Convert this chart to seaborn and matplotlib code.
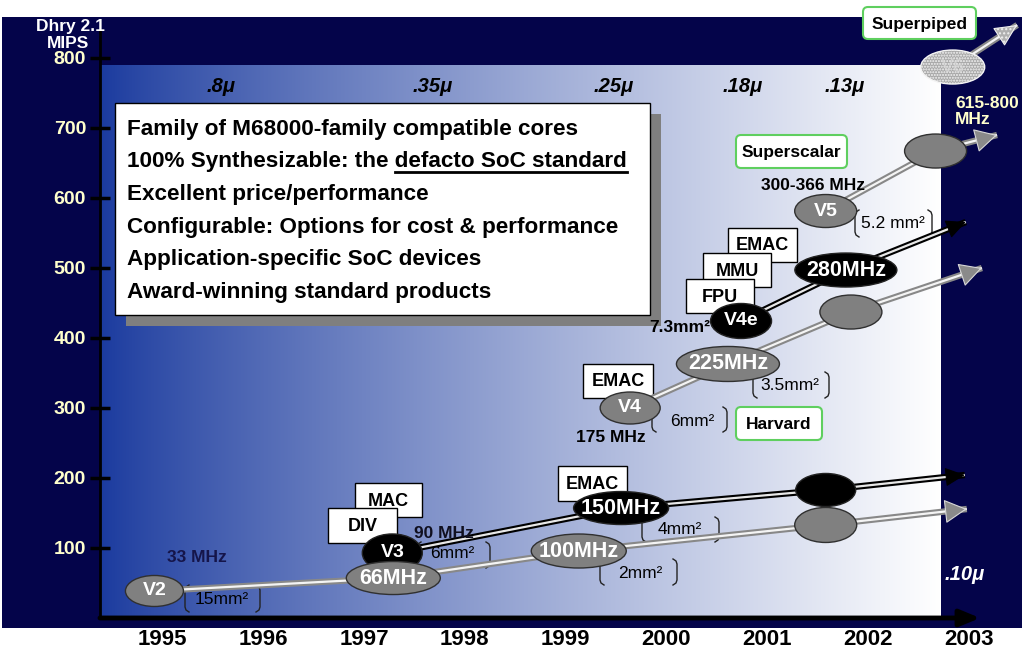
import numpy as np
import pandas as pd
import matplotlib
matplotlib.use("Agg")
import matplotlib.pyplot as plt
import matplotlib.transforms as mtrans
from matplotlib.patches import Ellipse, Rectangle, FancyBboxPatch
import seaborn as sns

# ---------------- data ----------------
year_ticks = [1995, 1996, 1997, 1998, 1999, 2000, 2001, 2002, 2003]
mips_ticks = [100, 200, 300, 400, 500, 600, 700, 800]

# each series: core points (years, Dhrystone MIPS); last point = arrow tip
v2_years = [1994.92, 1997.29, 1999.13, 2001.58, 2002.98]
v2_mips = [38.6, 57.1, 95.7, 132.9, 155.7]
v2_labels = ["V2", "66MHz", "100MHz", ""]

v3_years = [1997.28, 1999.55, 2001.58, 2002.96]
v3_mips = [92.9, 157.1, 182.9, 204.3]
v3_labels = ["V3", "150MHz", ""]

v4_years = [1999.64, 2000.61, 2001.83, 2003.13]
v4_mips = [300.0, 362.9, 437.1, 500.0]
v4_labels = ["V4", "225MHz", ""]

v4e_years = [2000.74, 2001.78, 2002.97]
v4e_mips = [424.3, 497.1, 565.7]
v4e_labels = ["V4e", "280MHz"]

v5_years = [2001.58, 2002.67, 2003.28]
v5_mips = [581.4, 667.1, 690.0]
v5_labels = ["V5", ""]

v6_years = [2002.84, 2003.48]
v6_mips = [787.1, 847.1]
v6_labels = ["V6"]

node_labels = [".8\u03bc", ".35\u03bc", ".25\u03bc", ".18\u03bc", ".13\u03bc"]
node_years = [1995.58, 1997.68, 1999.48, 2000.76, 2001.77]
node_last_label = ".10\u03bc"

bullets = [
    "Family of M68000-family compatible cores",
    "100% Synthesizable: the defacto SoC standard",
    "Excellent price/performance",
    "Configurable: Options for cost & performance",
    "Application-specific SoC devices",
    "Award-winning standard products",
]
underlined_part = "defacto SoC standard"

# ---------------- styling / layout ----------------
plt.rcParams["font.family"] = ["Liberation Sans", "DejaVu Sans"]
W, H = 1024, 652
NAVY = "#04044a"
GRAY = "#808080"

fig = plt.figure(figsize=(W / 100, H / 100), dpi=100, facecolor="white")
PX = mtrans.Affine2D().scale(1 / W, -1 / H).translate(0, 1) + fig.transFigure

bg = fig.add_axes([0, 0, 1, 1])
bg.set_axis_off()
bg.add_patch(Rectangle((2, 17), 1020, 611, transform=PX, fc=NAVY, ec="none"))

AX_L, AX_R, AX_T, AX_B = 100, 990, 30, 618
ax = fig.add_axes([AX_L / W, 1 - AX_B / H, (AX_R - AX_L) / W, (AX_B - AX_T) / H])
ax.set_facecolor("none")
XLIM = (1994.38, 2003.21)
YLIM = (0, 840)
XS = (AX_R - AX_L) / (XLIM[1] - XLIM[0])
YS = (AX_B - AX_T) / (YLIM[1] - YLIM[0])


def yr(px):
    return XLIM[0] + (px - AX_L) / XS


def mp(py):
    return YLIM[0] + (AX_B - py) / YS


# gradient panel
gx = np.linspace(0, 1, 600)
f = gx ** 0.85
left = np.array([26, 58, 158]) / 255
grad = left[None, :] * (1 - f[:, None]) + np.ones(3)[None, :] * f[:, None]
ax.imshow(grad[None, :, :], extent=[yr(100), yr(941), 0, mp(66)], aspect="auto",
          zorder=0, interpolation="bilinear")

# text box with shadow
ax.add_patch(Rectangle((126, 114), 535, 212, transform=PX, fc="#7f7f7f", ec="none",
                       zorder=1, clip_on=False))
ax.add_patch(Rectangle((115, 103), 535, 212, transform=PX, fc="white", ec="black",
                       lw=1, zorder=1.1, clip_on=False))
baselines = [135, 167, 200, 233, 265, 298]
btexts = []
BFS = 16.2
for s, b in zip(bullets, baselines):
    btexts.append(ax.text(127, b, s, transform=PX, ha="left", va="baseline",
                          fontsize=BFS, fontweight="bold", color="black", zorder=1.2))

# white feature boxes (back to front)
feature_boxes = [
    (355, 483, 422, 517, "MAC"), (328, 508, 397, 543, "DIV"),
    (558, 466, 627, 501, "EMAC"), (583, 364, 653, 398, "EMAC"),
    (728, 228, 797, 262, "EMAC"), (703, 253, 771, 287, "MMU"), (686, 279, 754, 313, "FPU"),
]
for i, (x0, y0, x1, y1, lab) in enumerate(feature_boxes):
    z = 2 + i * 0.01
    ax.add_patch(Rectangle((x0, y0), x1 - x0, y1 - y0, transform=PX, fc="white",
                           ec="black", lw=1, zorder=z, clip_on=False))
    ax.text((x0 + x1) / 2, (y0 + y1) / 2 + 1, lab, transform=PX, ha="center", va="center",
            fontsize=13, fontweight="bold", color="black", zorder=z + 0.005)

# green rounded boxes
green_boxes = [(736, 135, 847, 168, "Superscalar"), (736, 407, 822, 440, "Harvard"),
               (863, 7, 976, 39, "Superpiped")]
for x0, y0, x1, y1, lab in green_boxes:
    ax.add_patch(FancyBboxPatch((x0, y0), x1 - x0, y1 - y0,
                                boxstyle="round,pad=0,rounding_size=5", transform=PX,
                                fc="white", ec="#5fcf5f", lw=1.5, zorder=2, clip_on=False))
    ax.text((x0 + x1) / 2, (y0 + y1) / 2 + 1, lab, transform=PX, ha="center", va="center",
            fontsize=12.5, fontweight="bold", color="black", zorder=2.1)

# area brackets
brackets = [
    (185, 260, 585, 612, "15mm\u00b2", 222, 600),
    (417, 490, 542, 568, "6mm\u00b2", 452, 554),
    (600, 677, 559, 585, "2mm\u00b2", 640, 573),
    (642, 719, 517, 542, "4mm\u00b2", 680, 530),
    (652, 727, 407, 432, "6mm\u00b2", 692, 421),
    (753, 829, 372, 398, "3.5mm\u00b2", 790, 385),
    (855, 932, 210, 237, "5.2 mm\u00b2", 893, 224),
]
for xl, xr, y0, y1, lab, tx, ty in brackets:
    lx = [xl + 4, xl + 1, xl, xl, xl + 1, xl + 4]
    rx = [xr - 4, xr - 1, xr, xr, xr - 1, xr - 4]
    yy = [y0, y0 + 2, y0 + 5, y1 - 5, y1 - 2, y1]
    ax.plot(lx, yy, transform=PX, color="#222222", lw=1, zorder=2, clip_on=False)
    ax.plot(rx, yy, transform=PX, color="#222222", lw=1, zorder=2, clip_on=False)
    ax.text(tx, ty, lab, transform=PX, ha="center", va="center", fontsize=12.5,
            color="black", zorder=2.1)

# series
series = [
    (v3_years, v3_mips, v3_labels, "black", [(60, 38), (95, 33), (60, 33)]),
    (v2_years, v2_mips, v2_labels, "gray", [(58, 31), (94, 33), (95, 34), (62, 35)]),
    (v4_years, v4_mips, v4_labels, "gray", [(60, 32), (103, 35), (62, 34)]),
    (v4e_years, v4e_mips, v4e_labels, "black", [(61, 35), (102, 34)]),
    (v5_years, v5_mips, v5_labels, "gray", [(62, 33), (62, 34)]),
    (v6_years, v6_mips, v6_labels, "dots", [(64, 34)]),
]
for k, (ys_, ms_, labs, kind, sizes) in enumerate(series):
    zb = 3 + k * 0.1
    df = pd.DataFrame({"year": ys_, "mips": ms_})
    outer = "black" if kind == "black" else "#888888"
    inner = "#e8e8e8" if kind == "black" else "#f4f4f4"
    sns.lineplot(data=df, x="year", y="mips", sort=False, color=outer, lw=4.6, ax=ax,
                 zorder=zb, clip_on=False, solid_capstyle="butt", legend=False)
    sns.lineplot(data=df, x="year", y="mips", sort=False, color=inner, lw=1.6, ax=ax,
                 zorder=zb + 0.01, clip_on=False, solid_capstyle="butt", legend=False)
    # arrow head at the tip
    tx, ty = ys_[-1], ms_[-1]
    px0, py0 = ys_[-2], ms_[-2]
    dxp, dyp = (tx - px0) * XS, (ty - py0) * YS
    L = np.hypot(dxp, dyp)
    hl = 18 if kind == "black" else 21
    bx = tx - dxp / L * hl / XS
    by = ty - dyp / L * hl / YS
    if kind == "black":
        props = dict(arrowstyle="-|>,head_length=1.25,head_width=0.6", mutation_scale=10,
                     fc="black", ec="black", lw=0.8, shrinkA=0, shrinkB=0)
    elif kind == "gray":
        props = dict(arrowstyle="-|>,head_length=1.45,head_width=0.78", mutation_scale=10,
                     fc="#8a8a8a", ec="#d8d8d8", lw=0.8, shrinkA=0, shrinkB=0)
    else:
        props = dict(arrowstyle="-|>,head_length=1.45,head_width=0.7", mutation_scale=10,
                     fc="#b0b0b0", ec="#f0f0f0", lw=0.8, shrinkA=0, shrinkB=0, hatch="....")
    an = ax.annotate("", xy=(tx, ty), xytext=(bx, by), arrowprops=props,
                     annotation_clip=False, zorder=zb + 0.02)
    an.arrow_patch.set_clip_on(False)
    # core ellipses
    for (x, m, lab, (w, h)) in zip(ys_[:-1], ms_[:-1], labs, sizes):
        if kind == "black":
            e = Ellipse((x, m), w / XS, h / YS, fc="black", ec="#222222", lw=1,
                        zorder=zb + 0.03, clip_on=False)
        elif kind == "gray":
            e = Ellipse((x, m), w / XS, h / YS, fc=GRAY, ec="#303030", lw=1,
                        zorder=zb + 0.03, clip_on=False)
        else:
            e = Ellipse((x, m), w / XS, h / YS, fc="#a8a8a8", ec="#f4f4f4", lw=1,
                        hatch="......", zorder=zb + 0.03, clip_on=False)
        ax.add_patch(e)
        if lab:
            fs = 15.5 if "MHz" in lab else 14
            tc = "#dcdcdc" if kind == "dots" else "white"
            ax.text(x, m, lab, ha="center", va="center", fontsize=fs, fontweight="bold",
                    color=tc, alpha=(0.6 if kind == "dots" else 1), zorder=zb + 0.04,
                    clip_on=False)

# free text annotations
free_texts = [
    (70, 26, "Dhry 2.1", "white", "center"), (68, 43, "MIPS", "white", "center"),
    (197, 558, "33 MHz", "#15154a", "center"), (444, 533, "90 MHz", "#101020", "center"),
    (611, 438, "175 MHz", "black", "center"), (680, 327, "7.3mm\u00b2", "black", "center"),
    (813, 185, "300-366 MHz", "black", "center"),
    (955, 103, "615-800", "#ffffcc", "left"), (955, 120, "MHz", "#ffffcc", "left"),
]
for x, y, s, c, ha in free_texts:
    ax.text(x, y, s, transform=PX, ha=ha, va="center", fontsize=12.5, fontweight="bold",
            color=c, zorder=8, clip_on=False)

# process nodes
for lab, x in zip(node_labels, node_years):
    ax.text(x, mp(86), lab, ha="center", va="center", fontsize=14.5, fontweight="bold",
            fontstyle="italic", color="black", zorder=2, clip_on=False)
ax.text(yr(965), mp(575), node_last_label, ha="center", va="center", fontsize=14.5,
        fontweight="bold", fontstyle="italic", color="white", zorder=2, clip_on=False)

# axes, ticks
ax.set_xlim(*XLIM)
ax.set_ylim(*YLIM)
ax.set_xlabel("")
ax.set_ylabel("")
for sp in ["top", "right", "bottom"]:
    ax.spines[sp].set_visible(False)
ax.spines["left"].set_color("black")
ax.spines["left"].set_linewidth(2)
ax.set_yticks(mips_ticks)
ax.set_yticklabels([str(v) for v in mips_ticks], fontsize=14, fontweight="bold",
                   color="#ffffcc")
ax.tick_params(axis="y", direction="inout", length=14, width=2.5, color="black", pad=3)
ax.set_xticks(year_ticks)
ax.set_xticklabels([str(v) for v in year_ticks], fontsize=16, fontweight="bold",
                   color="black")
ax.tick_params(axis="x", length=0, pad=8)
ax.annotate("", xy=(980, 618), xytext=(100, 618), xycoords=PX, textcoords=PX,
            arrowprops=dict(arrowstyle="-|>,head_length=1.2,head_width=0.5",
                            mutation_scale=10, lw=3.5, color="black", shrinkA=0, shrinkB=0),
            annotation_clip=False, zorder=6)

# underline of "defacto SoC standard"
fig.canvas.draw()
r = fig.canvas.get_renderer()
line2 = btexts[1]
bb = line2.get_window_extent(r)
tmp = ax.text(0, 0, underlined_part, transform=PX, fontsize=BFS, fontweight="bold")
wpart = tmp.get_window_extent(r).width
tmp.remove()
x_end = bb.x1 * W / fig.bbox.width
x_start = x_end - wpart * W / fig.bbox.width
ax.plot([x_start, x_end], [172, 172], transform=PX, color="black", lw=2, zorder=1.3,
        clip_on=False)

fig.savefig("out.png", dpi=100, facecolor="white")
